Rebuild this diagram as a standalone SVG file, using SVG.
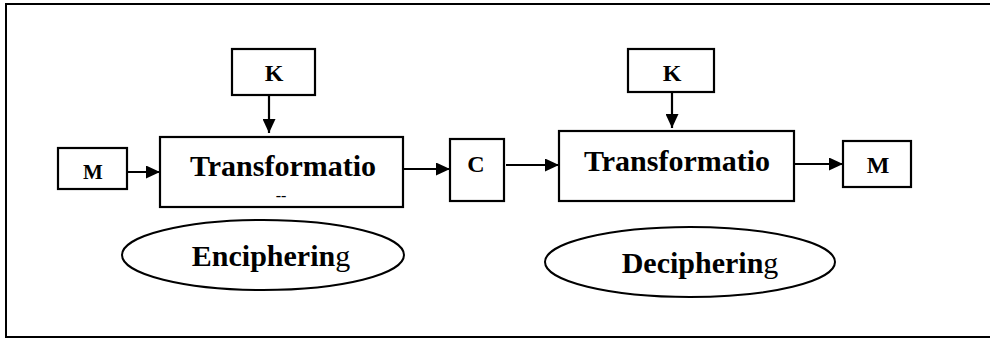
<svg xmlns="http://www.w3.org/2000/svg" width="990" height="339" viewBox="0 0 990 339">
<style>
.box{fill:#fff;stroke:#000;stroke-width:2.2}
.ell{fill:#fff;stroke:#000;stroke-width:2}
.con{stroke:#000;stroke-width:2.2;fill:none}
text{font-family:"Liberation Serif","Times New Roman",serif;font-weight:bold;fill:#000;text-anchor:middle}
.big{font-size:30px}
.lbl{font-size:24px}
.reg{font-weight:normal}
</style>
<defs>
<marker id="ah" markerUnits="userSpaceOnUse" markerWidth="14" markerHeight="13" refX="14" refY="6.5" orient="auto">
<path d="M0,0 L14,6.5 L0,13 z" fill="#000"/>
</marker>
</defs>
<path d="M990,4 H6 V337 H990" fill="none" stroke="#000" stroke-width="2"/>
<g id="k1"><rect class="box" x="232" y="49" width="83" height="46"/><text class="lbl" x="274" y="81">K</text></g>
<g id="m1"><rect class="box" x="58" y="148" width="69" height="41"/><text x="93" y="179" style="font-size:21px">M</text></g>
<g id="t1"><rect class="box" x="160" y="137" width="243" height="70"/><text class="big" x="283" y="176">Transformatio</text><text x="281" y="201" style="font-size:16px;font-weight:normal">--</text></g>
<g id="c"><rect class="box" x="450" y="139" width="54" height="62"/><text class="lbl" x="476" y="172">C</text></g>
<g id="k2"><rect class="box" x="628" y="49" width="86" height="43"/><text class="lbl" x="672" y="81">K</text></g>
<g id="t2"><rect class="box" x="559" y="131" width="235" height="70"/><text class="big" x="677" y="171">Transformatio</text></g>
<g id="m2"><rect class="box" x="843" y="141" width="68" height="46"/><text class="lbl" x="878" y="173">M</text></g>
<g id="enc"><ellipse class="ell" cx="263" cy="255" rx="141" ry="35"/><text class="big" x="271" y="266">Encipherin<tspan class="reg">g</tspan></text></g>
<g id="dec"><ellipse class="ell" cx="690" cy="262" rx="145" ry="35"/><text class="big" x="700" y="273">Decipherin<tspan class="reg">g</tspan></text></g>
<g id="connectors">
<line class="con" x1="269" y1="95" x2="269" y2="133" marker-end="url(#ah)"/>
<line class="con" x1="127" y1="172" x2="160" y2="172" marker-end="url(#ah)"/>
<line class="con" x1="403" y1="169" x2="450" y2="169" marker-end="url(#ah)"/>
<line class="con" x1="672" y1="92" x2="672" y2="128" marker-end="url(#ah)"/>
<line class="con" x1="506" y1="165" x2="559" y2="165" marker-end="url(#ah)"/>
<line class="con" x1="794" y1="164" x2="843" y2="164" marker-end="url(#ah)"/>
</g>
</svg>
